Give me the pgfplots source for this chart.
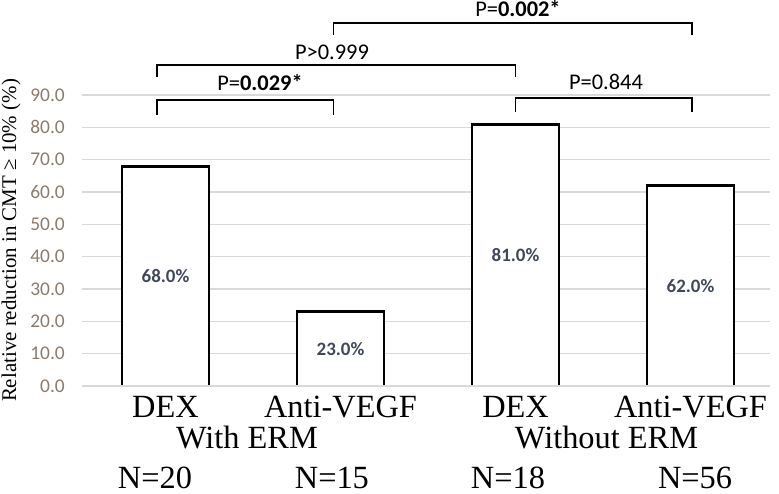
\documentclass[border=0pt]{standalone}
\usepackage{fontspec}
\setmainfont{Liberation Serif}
\newfontfamily\calibri{Carlito}
\usepackage{pgfplots}
\usepackage{pgfplotstable}
\pgfplotsset{compat=1.18}

\definecolor{gridgray}{HTML}{D9D9D9}
\definecolor{ticktan}{HTML}{8C7B6B}
\definecolor{valgray}{HTML}{404858}

% relative reduction (%) per group
\pgfplotstableread{
x v
0 68.0
1 23.0
2 81.0
3 62.0
}\reduction

\begin{document}
\begin{tikzpicture}
\path[use as bounding box] (-82bp,-108bp) rectangle (697bp,386bp);
\begin{axis}[
  at={(0,0)}, anchor=south west,
  scale only axis, width=688bp, height=291bp,
  xmin=-0.477, xmax=3.454, ymin=0, ymax=90,
  axis line style={draw=none},
  major tick length=0,
  ytick={0,10,...,90},
  ymajorgrids, grid style={color=gridgray, line width=1.4bp},
  /pgf/number format/assume math mode=true,
  yticklabel={\pgfmathprintnumber[fixed, fixed zerofill, precision=1]{\tick}},
  yticklabel style={font=\calibri\fontsize{19.5}{19.5}\selectfont, text=ticktan,
    anchor=east, inner sep=0pt, xshift=-17bp},
  xtick={0,1,2,3},
  xticklabels={DEX,Anti-VEGF,DEX,Anti-VEGF},
  xticklabel style={font=\fontsize{32.5}{32.5}\selectfont, anchor=base, inner sep=0pt, yshift=-31bp},
  ylabel={Relative reduction in CMT ≥ 10\% (\%)},
  ylabel style={font=\fontsize{21}{21}\selectfont, at={(axis description cs:-0.1032,0.5)}, anchor=center},
  clip=false,
]
\addplot[ybar, bar width=0.497, fill=white, draw=black, line width=2.8bp]
  table[x=x, y=v] {\reduction};
\draw[gridgray, line width=1.4bp] (axis cs:-0.477,0) -- (axis cs:3.454,0);
\addplot[draw=none, point meta=\thisrow{v},
  nodes near coords={\pgfmathprintnumber[fixed, fixed zerofill, precision=1]{\pgfplotspointmeta}\%},
  nodes near coords style={anchor=center, font=\calibri\bfseries\fontsize{19}{19}\selectfont, text=valgray}]
  table[x=x, y expr=\thisrow{v}/2] {\reduction};

% significance brackets
\draw[line width=1.7bp] (axis cs:-0.05,83.8) |- (axis cs:0.96,88.5) -- (axis cs:0.96,83.8);
\draw[line width=1.7bp] (axis cs:-0.05,95.6) |- (axis cs:2.0,99.3) -- (axis cs:2.0,95.6);
\draw[line width=1.7bp] (axis cs:2.0,84.7) |- (axis cs:3.01,89.1) -- (axis cs:3.01,84.7);
\draw[line width=1.7bp] (axis cs:0.96,108.6) |- (axis cs:3.01,112.3) -- (axis cs:3.01,108.6);
\begin{scope}[every node/.style={anchor=base, inner sep=0pt, font=\calibri\fontsize{22.5}{22.5}\selectfont}]
\node at (axis cs:0.54,91.3) {P=\textbf{0.029*}};
\node at (axis cs:0.951,101.0) {P>0.999};
\node at (axis cs:2.517,91.6) {P=0.844};
\node at (axis cs:2.014,114.3) {P=\textbf{0.002*}};
\end{scope}

% group names and sample sizes
\begin{scope}[every node/.style={anchor=base, inner sep=0pt, text depth=0pt, font=\fontsize{32.5}{32.5}\selectfont}]
\node at (axis cs:0.466,-19.2) {With ERM};
\node at (axis cs:2.52,-19.2) {Without ERM};
\node at (axis cs:-0.06,-31.8) {N=20};
\node at (axis cs:0.951,-31.8) {N=15};
\node at (axis cs:1.957,-31.8) {N=18};
\node at (axis cs:3.026,-31.8) {N=56};
\end{scope}
\end{axis}
\end{tikzpicture}
\end{document}
